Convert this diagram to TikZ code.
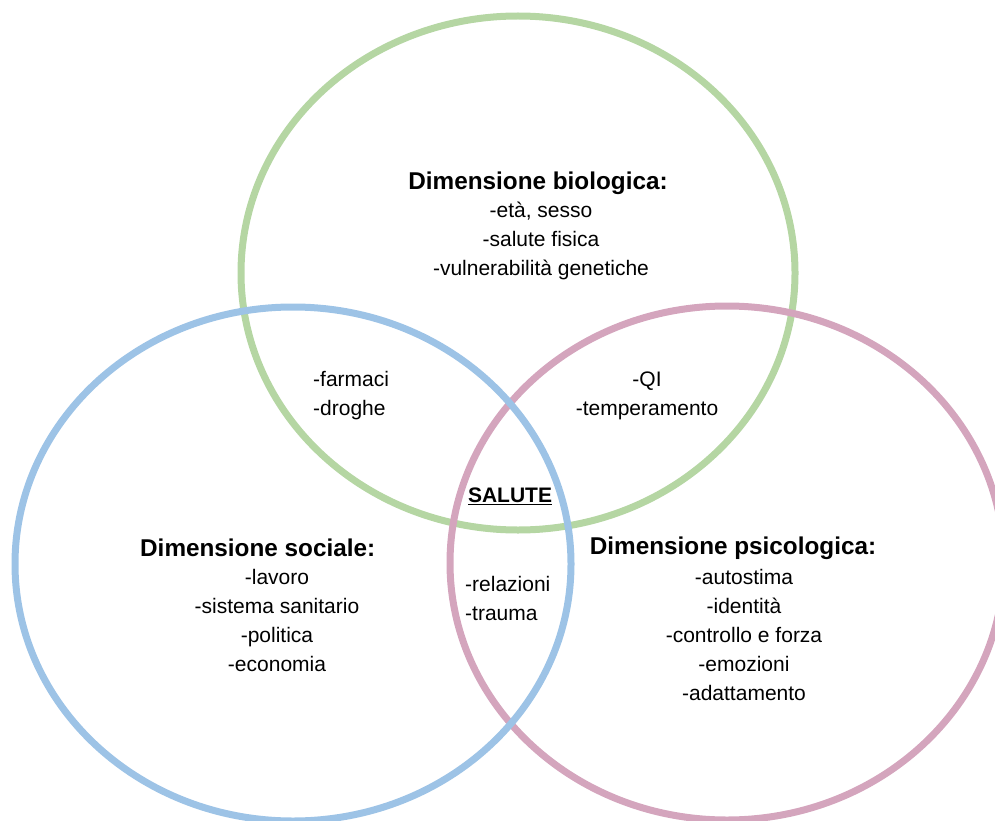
\documentclass[tikz,border=0pt]{standalone}
\usepackage{fontspec}
\setmainfont{Liberation Sans}
\definecolor{cgreen}{RGB}{181,214,163}
\definecolor{cblue}{RGB}{157,195,230}
\definecolor{cpink}{RGB}{212,165,189}
\begin{document}
\begin{tikzpicture}[x=1pt,y=-1pt,
  ring/.style={line width=7pt},
  head/.style={font=\fontsize{24.3}{29}\selectfont\bfseries, inner sep=0pt},
  item/.style={font=\fontsize{21}{29}\selectfont, inner sep=0pt, align=center},
  itemL/.style={font=\fontsize{21}{29}\selectfont, inner sep=0pt, align=left, anchor=west}]
\useasboundingbox (0,0) rectangle (995,821);
\clip (0,0) rectangle (995,821);
\draw[ring, cgreen] (518,273) ellipse [x radius=277pt, y radius=257pt];
\draw[ring, cpink] (727,563) ellipse [x radius=277pt, y radius=257pt];
\draw[ring, cblue] (293,564) ellipse [x radius=278pt, y radius=257pt];

\node[head] (bioT) at (538,183) {Dimensione biologica:};
\node[item] (bioL) at (541,241) {-età, sesso\\-salute fisica\\-vulnerabilità genetiche};
\node[itemL] (bsL) at (313,396) {-farmaci\\-droghe};
\node[item] (bpL) at (647,396) {-QI\\-temperamento};
\node[font=\fontsize{21}{25}\selectfont\bfseries, inner sep=0pt] (sal) at (510,496) {\underline{SALUTE}};
\node[head, anchor=west] (socT) at (140,548) {Dimensione sociale:};
\node[item] (socL) at (277,620) {-lavoro\\-sistema sanitario\\-politica\\-economia};
\node[itemL] (spL) at (465,598) {-relazioni\\-trauma};
\node[head] (psiT) at (733,548) {Dimensione psicologica:};
\node[item] (psiL) at (744,635) {-autostima\\-identità\\-controllo e forza\\-emozioni\\-adattamento};
\end{tikzpicture}
\end{document}
